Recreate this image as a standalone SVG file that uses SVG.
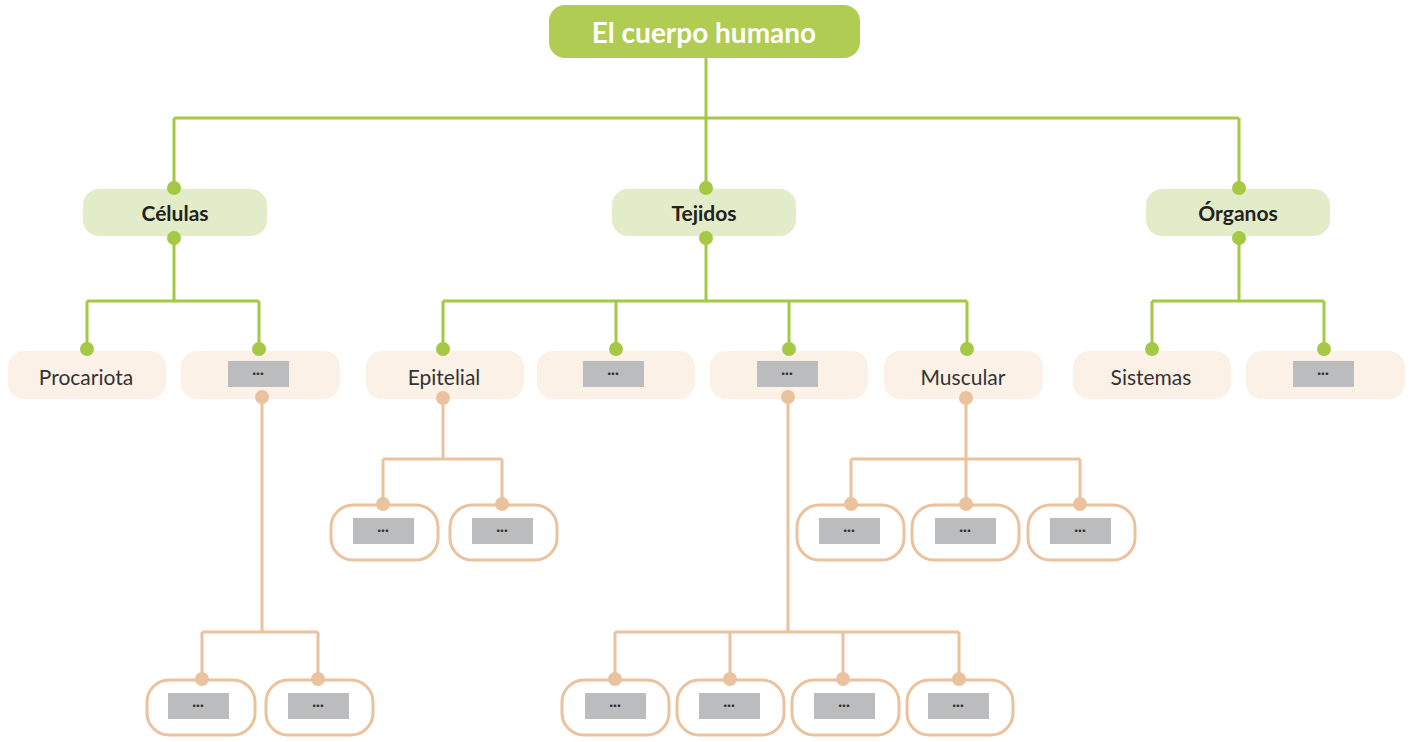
<svg xmlns="http://www.w3.org/2000/svg" width="1410" height="742" viewBox="0 0 1410 742">
<style>
text{font-family:"Lato","Open Sans",sans-serif}
.g{stroke:#a5c845;stroke-width:3;fill:none}
.o{stroke:#ebc29e;stroke-width:3;fill:none}
.gd{fill:#a5c845}.od{fill:#ebc29e}
.l1{fill:#e3ecc9}.l2{fill:#fbf1e7}
.ob{fill:#fff;stroke:#ebc29e;stroke-width:3}
.gr{fill:#bbbcbe}
.t1{font-size:21px;font-weight:bold;fill:#222;text-anchor:middle}
.t2{font-size:21px;fill:#333;text-anchor:middle}
.d{font-size:14px;font-weight:bold;fill:#333;text-anchor:middle}
</style>
<g id="connectors">
<path class="g" d="M706 58V118M174 118H1239M174 118V188M706 118V188M1239 118V188M174 238V301M87 301H259M87 301V349M259 301V349M706 238V301M443 301H967M443 301V349M616 301V349M789 301V349M967 301V349M1239 238V301M1152 301H1324M1152 301V349M1324 301V349"/>
<path class="o" d="M262 397V632M202 632H318M202 632V679M318 632V679M443 398V459M383 459H502M383 459V504M502 459V504M788 397V632M615 632H959M615 632V679M730 632V679M843 632V679M959 632V679M966 398V459M851 459H1080M851 459V504M966 459V504M1080 459V504"/>
</g>
<g id="root"><rect x="549" y="5" width="311" height="53" rx="16" fill="#b0cc52"/><text x="704" y="43" font-size="28" font-weight="bold" fill="#fff" text-anchor="middle">El cuerpo humano</text></g>
<g id="celulas"><rect class="l1" x="83" y="189" width="184" height="47" rx="16"/><text class="t1" x="175" y="221">Células</text></g>
<g id="tejidos"><rect class="l1" x="612" y="189" width="184" height="47" rx="16"/><text class="t1" x="704" y="221">Tejidos</text></g>
<g id="organos"><rect class="l1" x="1146" y="189" width="184" height="47" rx="16"/><text class="t1" x="1238" y="221">Órganos</text></g>
<g id="procariota"><rect class="l2" x="8" y="351" width="158" height="48" rx="16"/><text class="t2" x="86" y="385">Procariota</text></g>
<g id="c2"><rect class="l2" x="181" y="351" width="159" height="48" rx="16"/><rect class="gr" x="228" y="361" width="61" height="26"/><text class="d" x="258" y="378">···</text></g>
<g id="epitelial"><rect class="l2" x="366" y="351" width="158" height="48" rx="16"/><text class="t2" x="444" y="385">Epitelial</text></g>
<g id="t2"><rect class="l2" x="537" y="351" width="158" height="48" rx="16"/><rect class="gr" x="583" y="361" width="61" height="26"/><text class="d" x="613" y="378">···</text></g>
<g id="t3"><rect class="l2" x="710" y="351" width="158" height="48" rx="16"/><rect class="gr" x="757" y="361" width="61" height="26"/><text class="d" x="787" y="378">···</text></g>
<g id="muscular"><rect class="l2" x="884" y="351" width="159" height="48" rx="16"/><text class="t2" x="963" y="385">Muscular</text></g>
<g id="sistemas"><rect class="l2" x="1073" y="351" width="158" height="48" rx="16"/><text class="t2" x="1151" y="385">Sistemas</text></g>
<g id="o2"><rect class="l2" x="1246" y="351" width="159" height="48" rx="16"/><rect class="gr" x="1293" y="361" width="61" height="26"/><text class="d" x="1323" y="378">···</text></g>
<g id="c2a"><rect class="ob" x="147" y="680" width="108" height="55" rx="22"/><rect class="gr" x="168" y="693" width="61" height="26"/><text class="d" x="198" y="710">···</text></g>
<g id="c2b"><rect class="ob" x="266" y="680" width="107" height="55" rx="22"/><rect class="gr" x="288" y="693" width="61" height="26"/><text class="d" x="318" y="710">···</text></g>
<g id="ep1"><rect class="ob" x="331" y="505" width="107" height="55" rx="22"/><rect class="gr" x="353" y="518" width="61" height="26"/><text class="d" x="383" y="535">···</text></g>
<g id="ep2"><rect class="ob" x="450" y="505" width="107" height="55" rx="22"/><rect class="gr" x="472" y="518" width="61" height="26"/><text class="d" x="502" y="535">···</text></g>
<g id="t3a"><rect class="ob" x="562" y="680" width="107" height="55" rx="22"/><rect class="gr" x="585" y="693" width="61" height="26"/><text class="d" x="615" y="710">···</text></g>
<g id="t3b"><rect class="ob" x="677" y="680" width="107" height="55" rx="22"/><rect class="gr" x="699" y="693" width="61" height="26"/><text class="d" x="729" y="710">···</text></g>
<g id="t3c"><rect class="ob" x="792" y="680" width="107" height="55" rx="22"/><rect class="gr" x="814" y="693" width="61" height="26"/><text class="d" x="844" y="710">···</text></g>
<g id="t3d"><rect class="ob" x="907" y="680" width="106" height="55" rx="22"/><rect class="gr" x="928" y="693" width="61" height="26"/><text class="d" x="958" y="710">···</text></g>
<g id="mu1"><rect class="ob" x="797" y="505" width="107" height="55" rx="22"/><rect class="gr" x="819" y="518" width="61" height="26"/><text class="d" x="849" y="535">···</text></g>
<g id="mu2"><rect class="ob" x="912" y="505" width="107" height="55" rx="22"/><rect class="gr" x="935" y="518" width="61" height="26"/><text class="d" x="965" y="535">···</text></g>
<g id="mu3"><rect class="ob" x="1028" y="505" width="107" height="55" rx="22"/><rect class="gr" x="1050" y="518" width="61" height="26"/><text class="d" x="1080" y="535">···</text></g>
<g id="dots">
<g class="gd"><circle cx="174" cy="188" r="7"/><circle cx="706" cy="188" r="7"/><circle cx="1239" cy="188" r="7"/><circle cx="174" cy="238" r="7"/><circle cx="706" cy="238" r="7"/><circle cx="1239" cy="238" r="7"/><circle cx="87" cy="349" r="7"/><circle cx="259" cy="349" r="7"/><circle cx="443" cy="349" r="7"/><circle cx="616" cy="349" r="7"/><circle cx="789" cy="349" r="7"/><circle cx="967" cy="349" r="7"/><circle cx="1152" cy="349" r="7"/><circle cx="1324" cy="349" r="7"/></g>
<g class="od"><circle cx="262" cy="397" r="7"/><circle cx="443" cy="398" r="7"/><circle cx="788" cy="397" r="7"/><circle cx="966" cy="398" r="7"/><circle cx="202" cy="679" r="7"/><circle cx="318" cy="679" r="7"/><circle cx="383" cy="504" r="7"/><circle cx="502" cy="504" r="7"/><circle cx="615" cy="679" r="7"/><circle cx="730" cy="679" r="7"/><circle cx="843" cy="679" r="7"/><circle cx="959" cy="679" r="7"/><circle cx="851" cy="504" r="7"/><circle cx="966" cy="504" r="7"/><circle cx="1080" cy="504" r="7"/></g>
</g>
</svg>
